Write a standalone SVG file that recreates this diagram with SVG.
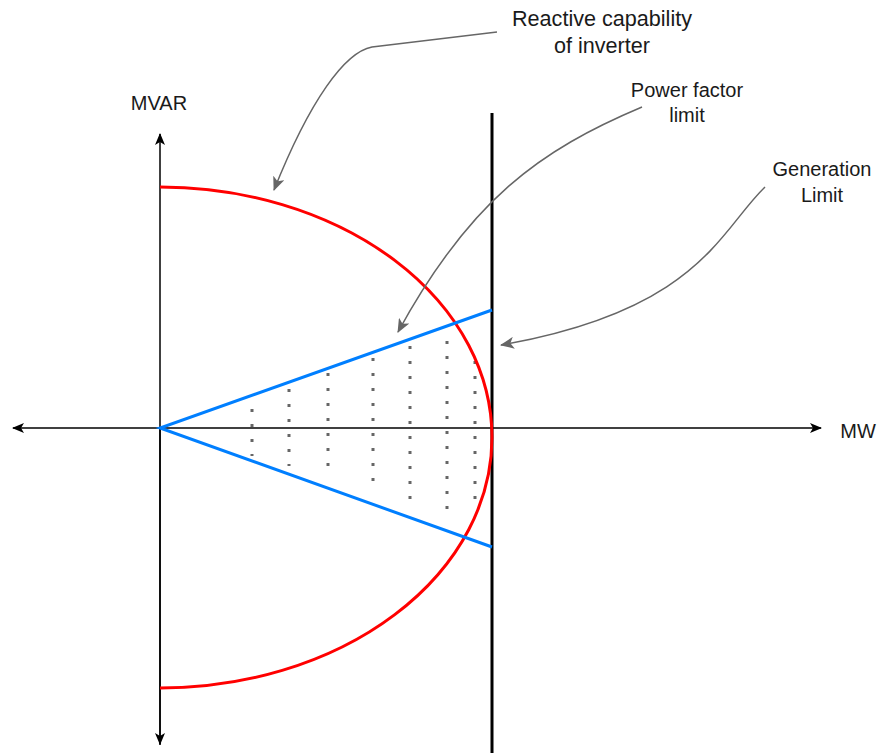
<svg xmlns="http://www.w3.org/2000/svg" width="884" height="753" viewBox="0 0 884 753">
<defs>
<style>
.lbl{font-family:"Liberation Sans",Arial,sans-serif;font-size:20px;fill:#1a1a1a;text-anchor:middle}
.big{font-size:21.6px}
.axis{stroke:#000;stroke-width:1.5;fill:none}
.call{stroke:#666;stroke-width:1.5;fill:none}
.dots{stroke:#666;stroke-width:3;stroke-dasharray:3 12;fill:none}
</style>
<marker id="ah" viewBox="0 0 12 10" refX="11" refY="5" markerWidth="12" markerHeight="10" markerUnits="userSpaceOnUse" orient="auto">
<path d="M0,0 L12,5 L0,10 L3,5 Z" fill="#000"/>
</marker>
<marker id="gh" viewBox="0 0 14 12" refX="13" refY="6" markerWidth="14" markerHeight="12" markerUnits="userSpaceOnUse" orient="auto">
<path d="M0,0 L14,6 L0,12 L3.5,6 Z" fill="#666"/>
</marker>
</defs>
<g id="axes">
<line class="axis" x1="160" y1="745" x2="160" y2="134" marker-end="url(#ah)"/>
<line class="axis" x1="160" y1="428" x2="160" y2="744" marker-end="url(#ah)"/>
<line class="axis" x1="160" y1="428" x2="13" y2="428" marker-end="url(#ah)"/>
<line class="axis" x1="160" y1="428" x2="821" y2="428" marker-end="url(#ah)"/>
</g>
<g id="dotted">
<line class="dots" x1="252" y1="409" x2="252" y2="456"/>
<line class="dots" x1="289" y1="389" x2="289" y2="466"/>
<line class="dots" x1="328" y1="373" x2="328" y2="478"/>
<line class="dots" x1="373" y1="358" x2="373" y2="493"/>
<line class="dots" x1="410" y1="346" x2="410" y2="511"/>
<line class="dots" x1="447" y1="341" x2="447" y2="521"/>
<line class="dots" x1="475" y1="361" x2="475" y2="511"/>
</g>
<g id="generation-limit-line">
<line x1="492" y1="113" x2="492" y2="753" stroke="#000" stroke-width="3"/>
</g>
<g id="capability-arc">
<path d="M160,187 A332,250.5 0 0 1 160,688" fill="none" stroke="#ff0000" stroke-width="3"/>
</g>
<g id="pf-lines">
<polyline points="492,310 160,428 492,547" fill="none" stroke="#007fff" stroke-width="3"/>
</g>
<g id="connectors">
<path class="call" d="M497,32 L372,47 C345,52 310,100 274,190" marker-end="url(#gh)"/>
<path class="call" d="M642,107 C540,150 470,200 398,332" marker-end="url(#gh)"/>
<path class="call" d="M765,187 C720,230 700,310 501,345" marker-end="url(#gh)"/>
</g>
<g id="label-mvar"><text class="lbl" x="159" y="110">MVAR</text></g>
<g id="label-mw"><text class="lbl" x="858" y="438">MW</text></g>
<g id="label-reactive"><text class="lbl big" x="602" y="26">Reactive capability</text><text class="lbl big" x="602" y="53">of inverter</text></g>
<g id="label-pf"><text class="lbl" x="687" y="97">Power factor</text><text class="lbl" x="687" y="122">limit</text></g>
<g id="label-gen"><text class="lbl" x="822" y="176">Generation</text><text class="lbl" x="822" y="202">Limit</text></g>
</svg>
